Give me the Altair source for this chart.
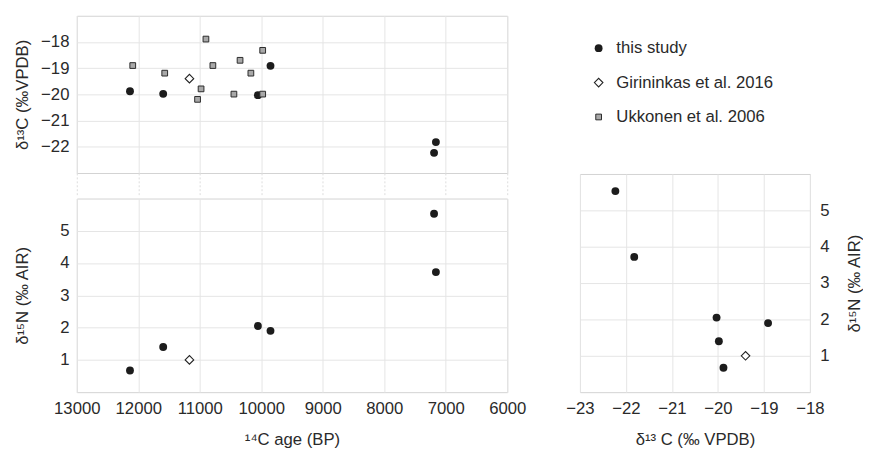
import altair as alt
import pandas as pd

FONT = "Liberation Sans"
TXT = "#2a2a2a"

# ---- data ----
this_age = [12135, 11595, 10055, 9850, 7190, 7160]
this_d13c = [-19.88, -19.98, -20.03, -18.91, -22.23, -21.82]
this_d15n = [0.67, 1.40, 2.05, 1.90, 5.53, 3.72]

gir_age = [11168]
gir_d13c = [-19.40]
gir_d15n = [1.00]

ukk_age = [12090, 11570, 10900, 10787, 10979, 11036, 10345, 10169, 10445, 9977, 9977]
ukk_d13c = [-18.90, -19.19, -17.89, -18.90, -19.79, -20.19, -18.70, -19.19, -19.99, -18.32, -19.99]

legend_labels = ["this study", "Girininkas et al. 2016", "Ukkonen et al. 2006"]

age_ticks = [13000, 12000, 11000, 10000, 9000, 8000, 7000, 6000]
d13c_ticks_top = [-22, -21, -20, -19, -18]
d15n_ticks = [1, 2, 3, 4, 5]
d13c_ticks_right = [-23, -22, -21, -20, -19, -18]

this_df = pd.DataFrame({"age": this_age, "d13c": this_d13c, "d15n": this_d15n})
gir_df = pd.DataFrame({"age": gir_age, "d13c": gir_d13c, "d15n": gir_d15n})
ukk_df = pd.DataFrame({"age": ukk_age, "d13c": ukk_d13c})
leg_df = pd.DataFrame({"label": legend_labels})

CIRCLE = dict(size=64, color="#1c1c1c", opacity=1)
DIAMOND = dict(shape="diamond", filled=True, fill="white", stroke="#222222",
               strokeWidth=1.1, size=76, opacity=1)
SQUARE = dict(size=34, fill="#a8a8a8", stroke="#2a2a2a", strokeWidth=1, opacity=1)

age_scale = alt.Scale(domain=[6000, 13000], reverse=True, nice=False, zero=False)

# ---- top-left panel: d13C vs age ----
top_x = alt.X("age:Q", scale=age_scale,
              axis=alt.Axis(values=age_ticks, labels=False, ticks=True, tickSize=22,
                            tickDash=[2, 2], tickColor="#dcdcdc", domain=False,
                            grid=True, title=None))
top_y = alt.Y("d13c:Q", scale=alt.Scale(domain=[-23, -17], nice=False, zero=False),
              axis=alt.Axis(values=d13c_ticks_top, title="δ¹³C (‰VPDB)",
                            titleX=-55, titleBaseline="middle", labelPadding=8,
                            labelFlush=False))

top = alt.layer(
    alt.Chart(this_df).mark_circle(**CIRCLE).encode(x=top_x, y=top_y),
    alt.Chart(gir_df).mark_point(**DIAMOND).encode(x=top_x, y=top_y),
    alt.Chart(ukk_df).mark_square(**SQUARE).encode(x=top_x, y=top_y),
).properties(width=438, height=160)

# ---- bottom-left panel: d15N vs age ----
bot_x = alt.X("age:Q", scale=age_scale,
              axis=alt.Axis(values=age_ticks, format="d", title="¹⁴C age (BP)",
                            labelFlush=False, labelOverlap=False, labelPadding=9,
                            titlePadding=15))
bot_y = alt.Y("d15n:Q", scale=alt.Scale(domain=[0, 6], nice=False),
              axis=alt.Axis(values=d15n_ticks, title="δ¹⁵N (‰ AIR)",
                            titleX=-55, titleBaseline="middle", labelPadding=8,
                            labelFlush=False))

bottom = alt.layer(
    alt.Chart(this_df).mark_circle(**CIRCLE).encode(x=bot_x, y=bot_y),
    alt.Chart(gir_df).mark_point(**DIAMOND).encode(x=bot_x, y=bot_y),
).properties(width=438, height=197)

# ---- right panel: d15N vs d13C ----
r_x = alt.X("d13c:Q", scale=alt.Scale(domain=[-23, -18], nice=False, zero=False),
            axis=alt.Axis(values=d13c_ticks_right, title="δ¹³ C (‰ VPDB)",
                          labelFlush=False, labelOverlap=False, labelPadding=9,
                          titlePadding=15))
r_y = alt.Y("d15n:Q", scale=alt.Scale(domain=[0, 6], nice=False),
            axis=alt.Axis(values=d15n_ticks, orient="right", title="δ¹⁵N (‰ AIR)",
                          titleAngle=270, titleX=45, titleBaseline="middle",
                          labelPadding=10, labelFlush=False))

right = alt.layer(
    alt.Chart(this_df).mark_circle(**CIRCLE).encode(x=r_x, y=r_y),
    alt.Chart(gir_df).mark_point(**DIAMOND).encode(x=r_x, y=r_y),
).properties(width=234, height=222)

# ---- legend ----
leg_y = alt.Y("label:N", sort=legend_labels, axis=None,
              scale=alt.Scale(padding=0.943))
legend = alt.layer(
    alt.Chart(leg_df).transform_filter(alt.datum.label == legend_labels[0])
    .mark_circle(**CIRCLE).encode(x=alt.value(19), y=leg_y),
    alt.Chart(leg_df).transform_filter(alt.datum.label == legend_labels[1])
    .mark_point(**DIAMOND).encode(x=alt.value(19), y=leg_y),
    alt.Chart(leg_df).transform_filter(alt.datum.label == legend_labels[2])
    .mark_square(**SQUARE).encode(x=alt.value(19), y=leg_y),
    alt.Chart(leg_df).mark_text(align="left", baseline="middle", fontSize=17,
                                font=FONT, color=TXT)
    .encode(x=alt.value(37), y=leg_y, text="label:N"),
).properties(width=234, height=136, view=alt.ViewBackground(stroke="transparent"))

left_col = alt.vconcat(top, bottom, spacing=2)
right_col = alt.vconcat(legend, right, spacing=23)

chart = alt.hconcat(left_col, right_col, spacing=39).properties(
    padding={"left": 5, "top": 3, "right": 0, "bottom": 0},
    background="white",
).configure_axis(
    labelFont=FONT, titleFont=FONT, labelFontSize=17, titleFontSize=17,
    labelColor=TXT, titleColor=TXT, titleFontWeight="normal",
    gridColor="#e4e4e4", gridWidth=1, domain=False, ticks=False,
).configure_view(stroke="#d2d2d2")

chart.save("out.html", embed_options={"renderer": "svg", "actions": False})
